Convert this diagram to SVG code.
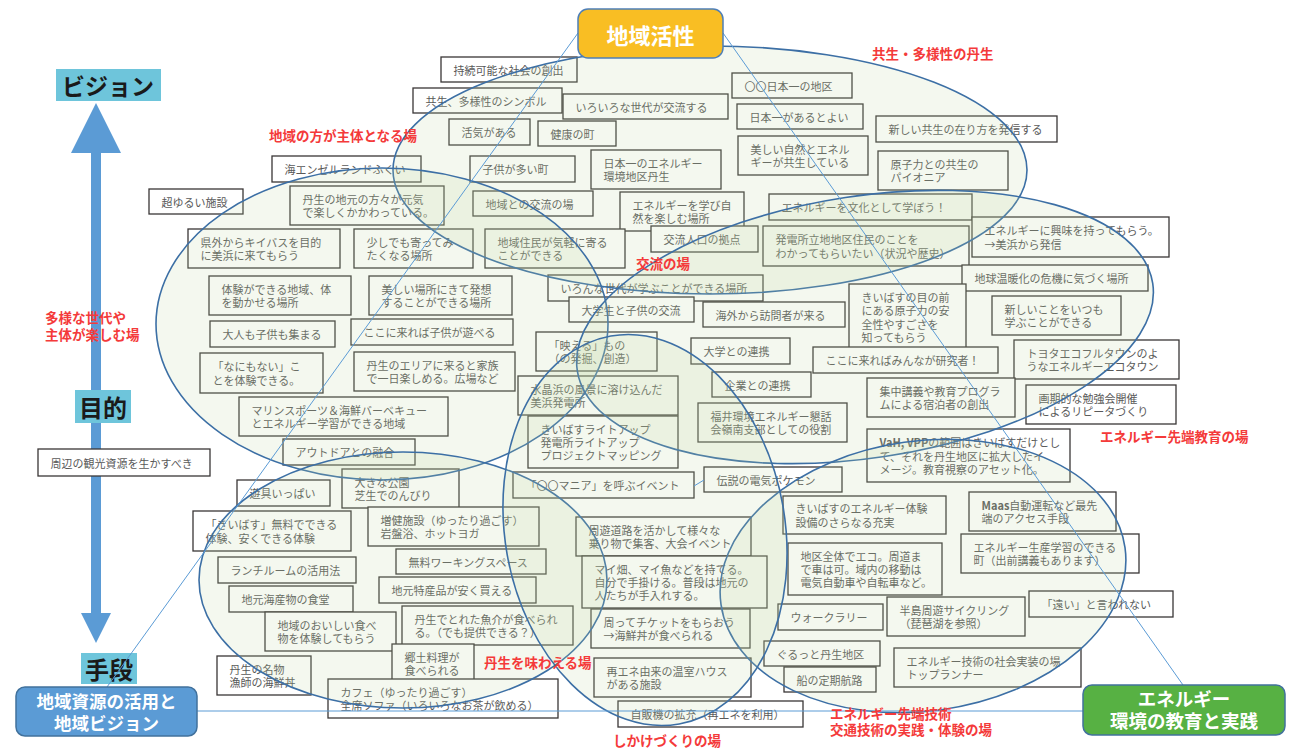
<svg xmlns="http://www.w3.org/2000/svg" width="1289" height="749" viewBox="0 0 1289 749">
<style>
.bx rect{fill:#fff;stroke:#3a3636;stroke-width:1.3}
.bx text{font-family:"Noto Sans CJK JP","Noto Sans",sans-serif;font-size:11px;fill:#595959;dominant-baseline:central}
.rg{fill:rgb(190,215,160);fill-opacity:0.17;stroke:#3c6fa5;stroke-width:1.6}
.lbl{font-family:"Noto Sans CJK JP",sans-serif;font-size:13.5px;font-weight:bold;fill:#f43a3a;dominant-baseline:central}
.cn{stroke:#5b9bd5;stroke-width:1;fill:none}
.ax rect{fill:#6ec5db}
.ax text{font-family:"Noto Sans CJK JP",sans-serif;font-weight:bold;fill:#1a1a1a;text-anchor:middle;dominant-baseline:central}
.mn text{font-family:"Noto Sans CJK JP",sans-serif;font-weight:bold;fill:#fff;text-anchor:middle;dominant-baseline:central}
</style>
<rect width="1289" height="749" fill="#fff"/>
<g id="axis-arrow" fill="#5b9bd5">
<polygon points="96,103 121,153 71,153"/>
<rect x="91" y="152" width="10" height="462"/>
<polygon points="81,613 111,613 96,643"/>
</g>
<g id="ax-vision" class="ax"><rect x="56" y="69" width="105" height="32"/><text x="108" y="85" font-size="23">ビジョン</text></g>
<g id="ax-purpose" class="ax"><rect x="75" y="390" width="56" height="33"/><text x="103" y="406" font-size="24">目的</text></g>
<g id="ax-means" class="ax"><rect x="81" y="653" width="56" height="31"/><text x="109" y="668.5" font-size="24">手段</text></g>

<g id="b01" class="bx"><rect x="441" y="57" width="136" height="25"/><text x="453.5" y="69.5">持続可能な社会の創出</text></g>
<g id="b02" class="bx"><rect x="413" y="88" width="149" height="25"/><text x="425.5" y="100.5">共生、多様性のシンボル</text></g>
<g id="b03" class="bx"><rect x="563" y="94" width="165" height="25"/><text x="575.5" y="106.5">いろいろな世代が交流する</text></g>
<g id="b04" class="bx"><rect x="449" y="119" width="81" height="26"/><text x="461.5" y="132">活気がある</text></g>
<g id="b05" class="bx"><rect x="538" y="121" width="78" height="25"/><text x="550.5" y="133.5">健康の町</text></g>
<g id="b06" class="bx"><rect x="470" y="156" width="105" height="26"/><text x="482.5" y="169">子供が多い町</text></g>
<g id="b07" class="bx"><rect x="591" y="150" width="130" height="39"/><text><tspan x="603.5" y="162.9">日本一のエネルギー</tspan><tspan x="603.5" y="176.2">環境地区丹生</tspan></text></g>
<g id="b08" class="bx"><rect x="473" y="191" width="120" height="25"/><text x="485.5" y="203.5">地域との交流の場</text></g>
<g id="b09" class="bx"><rect x="620" y="192" width="124" height="39"/><text><tspan x="632.5" y="204.9">エネルギーを学び自</tspan><tspan x="632.5" y="218.2">然を楽しむ場所</tspan></text></g>
<g id="b10" class="bx"><rect x="651" y="226" width="107" height="26"/><text x="663.5" y="239">交流人口の拠点</text></g>
<g id="b11" class="bx"><rect x="485" y="229" width="140" height="39"/><text><tspan x="497.5" y="241.9">地域住民が気軽に寄る</tspan><tspan x="497.5" y="255.2">ことができる</tspan></text></g>
<g id="b12" class="bx"><rect x="732" y="73" width="120" height="25"/><text x="744.5" y="85.5">〇〇日本一の地区</text></g>
<g id="b13" class="bx"><rect x="737" y="104" width="126" height="25"/><text x="749.5" y="116.5">日本一があるとよい</text></g>
<g id="b14" class="bx"><rect x="738" y="136" width="130" height="39"/><text><tspan x="750.5" y="148.9">美しい自然とエネル</tspan><tspan x="750.5" y="162.2">ギーが共生している</tspan></text></g>
<g id="b15" class="bx"><rect x="876" y="116" width="181" height="26"/><text x="888.5" y="129">新しい共生の在り方を発信する</text></g>
<g id="b16" class="bx"><rect x="878" y="151" width="130" height="39"/><text><tspan x="890.5" y="163.9">原子力との共生の</tspan><tspan x="890.5" y="177.2">パイオニア</tspan></text></g>
<g id="b17" class="bx"><rect x="769" y="194" width="203" height="26"/><text x="781.5" y="207">エネルギーを文化として学ぼう！</text></g>
<g id="b18" class="bx"><rect x="763" y="226" width="206" height="40"/><text><tspan x="775.5" y="239.4">発電所立地地区住民のことを</tspan><tspan x="775.5" y="252.7">わかってもらいたい（状況や歴史）</tspan></text></g>
<g id="b19" class="bx"><rect x="972" y="217" width="197" height="40"/><text><tspan x="984.5" y="230.4">エネルギーに興味を持ってもらう。</tspan><tspan x="984.5" y="243.7">→美浜から発信</tspan></text></g>
<g id="b20" class="bx"><rect x="962" y="265" width="186" height="26"/><text x="974.5" y="278">地球温暖化の危機に気づく場所</text></g>
<g id="b21" class="bx"><rect x="849" y="284" width="117" height="66"/><text><tspan x="861.5" y="297">きいばすの目の前</tspan><tspan x="861.5" y="310.3">にある原子力の安</tspan><tspan x="861.5" y="323.7">全性やすごさを</tspan><tspan x="861.5" y="337">知ってもらう</tspan></text></g>
<g id="b22" class="bx"><rect x="992" y="296" width="129" height="39"/><text><tspan x="1004.5" y="308.9">新しいことをいつも</tspan><tspan x="1004.5" y="322.2">学ぶことができる</tspan></text></g>
<g id="b23" class="bx"><rect x="813" y="347" width="185" height="26"/><text x="825.5" y="360">ここに来ればみんなが研究者！</text></g>
<g id="b24" class="bx"><rect x="1014" y="340" width="165" height="39"/><text><tspan x="1026.5" y="352.9">トヨタエコフルタウンのよ</tspan><tspan x="1026.5" y="366.2">うなエネルギーエコタウン</tspan></text></g>
<g id="b25" class="bx"><rect x="867" y="378" width="148" height="39"/><text><tspan x="879.5" y="390.9">集中講義や教育プログラ</tspan><tspan x="879.5" y="404.2">ムによる宿泊者の創出</tspan></text></g>
<g id="b26" class="bx"><rect x="1026" y="385" width="150" height="39"/><text><tspan x="1038.5" y="397.9">画期的な勉強会開催</tspan><tspan x="1038.5" y="411.2">によるリピータづくり</tspan></text></g>
<g id="b27" class="bx"><rect x="867" y="429" width="203" height="53"/><text><tspan x="879.5" y="442.2"><tspan font-weight="bold">VaH, VPP</tspan>の範囲はきいばすだけとし</tspan><tspan x="879.5" y="455.5">て、それを丹生地区に拡大したイ</tspan><tspan x="879.5" y="468.8">メージ。教育視察のアセット化。</tspan></text></g>
<g id="b28" class="bx"><rect x="548" y="275" width="215" height="26"/><text x="560.5" y="288">いろんな世代が学ぶことができる場所</text></g>
<g id="b29" class="bx"><rect x="569" y="297" width="125" height="25"/><text x="581.5" y="309.5">大学生と子供の交流</text></g>
<g id="b30" class="bx"><rect x="703" y="302" width="142" height="25"/><text x="715.5" y="314.5">海外から訪問者が来る</text></g>
<g id="b31" class="bx"><rect x="536" y="332" width="121" height="39"/><text><tspan x="548.5" y="344.9">「映える」もの</tspan><tspan x="548.5" y="358.2">（の発掘、創造）</tspan></text></g>
<g id="b32" class="bx"><rect x="691" y="338" width="99" height="26"/><text x="703.5" y="351">大学との連携</text></g>
<g id="b33" class="bx"><rect x="712" y="372" width="99" height="25"/><text x="724.5" y="384.5">企業との連携</text></g>
<g id="b34" class="bx"><rect x="518" y="376" width="160" height="39"/><text><tspan x="530.5" y="388.9">水晶浜の風景に溶け込んだ</tspan><tspan x="530.5" y="402.2">美浜発電所</tspan></text></g>
<g id="b35" class="bx"><rect x="698" y="403" width="149" height="39"/><text><tspan x="710.5" y="415.9">福井環境エネルギー懇話</tspan><tspan x="710.5" y="429.2">会嶺南支部としての役割</tspan></text></g>
<g id="b36" class="bx"><rect x="528" y="416" width="150" height="52"/><text><tspan x="540.5" y="428.7">きいばすライトアップ</tspan><tspan x="540.5" y="442">発電所ライトアップ</tspan><tspan x="540.5" y="455.3">プロジェクトマッピング</tspan></text></g>
<g id="b37" class="bx"><rect x="513" y="472" width="181" height="26"/><text x="525.5" y="485">「〇〇マニア」を呼ぶイベント</text></g>
<g id="b38" class="bx"><rect x="704" y="467" width="138" height="25"/><text x="716.5" y="479.5">伝説の電気ポケモン</text></g>
<g id="b39" class="bx"><rect x="272" y="156" width="149" height="26"/><text x="284.5" y="169">海エンゼルランドふくい</text></g>
<g id="b40" class="bx"><rect x="149" y="189" width="94" height="25"/><text x="161.5" y="201.5">超ゆるい施設</text></g>
<g id="b41" class="bx"><rect x="290" y="186" width="154" height="39"/><text><tspan x="302.5" y="198.9">丹生の地元の方々が元気</tspan><tspan x="302.5" y="212.2">で楽しくかかわっている。</tspan></text></g>
<g id="b42" class="bx"><rect x="188" y="229" width="152" height="39"/><text><tspan x="200.5" y="241.9">県外からキイバスを目的</tspan><tspan x="200.5" y="255.2">に美浜に来てもらう</tspan></text></g>
<g id="b43" class="bx"><rect x="354" y="229" width="119" height="39"/><text><tspan x="366.5" y="241.9">少しでも寄ってみ</tspan><tspan x="366.5" y="255.2">たくなる場所</tspan></text></g>
<g id="b44" class="bx"><rect x="209" y="276" width="142" height="39"/><text><tspan x="221.5" y="288.9">体験ができる地域、体</tspan><tspan x="221.5" y="302.2">を動かせる場所</tspan></text></g>
<g id="b45" class="bx"><rect x="369" y="276" width="143" height="39"/><text><tspan x="381.5" y="288.9">美しい場所にきて発想</tspan><tspan x="381.5" y="302.2">することができる場所</tspan></text></g>
<g id="b46" class="bx"><rect x="210" y="321" width="125" height="26"/><text x="222.5" y="334">大人も子供も集まる</text></g>
<g id="b47" class="bx"><rect x="351" y="319" width="162" height="26"/><text x="363.5" y="332">ここに来れば子供が遊べる</text></g>
<g id="b48" class="bx"><rect x="200" y="353" width="123" height="40"/><text><tspan x="212.5" y="366.4">「なにもない」こ</tspan><tspan x="212.5" y="379.7">とを体験できる。</tspan></text></g>
<g id="b49" class="bx"><rect x="354" y="352" width="161" height="39"/><text><tspan x="366.5" y="364.9">丹生のエリアに来ると家族</tspan><tspan x="366.5" y="378.2">で一日楽しめる。広場など</tspan></text></g>
<g id="b50" class="bx"><rect x="239" y="397" width="209" height="39"/><text><tspan x="251.5" y="409.9">マリンスポーツ＆海鮮バーベキュー</tspan><tspan x="251.5" y="423.2">とエネルギー学習ができる地域</tspan></text></g>
<g id="b51" class="bx"><rect x="283" y="439" width="132" height="26"/><text x="295.5" y="452">アウトドアとの融合</text></g>
<g id="b52" class="bx"><rect x="38" y="449" width="172" height="27"/><text x="50.5" y="462.5">周辺の観光資源を生かすべき</text></g>
<g id="b53" class="bx"><rect x="237" y="480" width="93" height="26"/><text x="249.5" y="493">遊具いっぱい</text></g>
<g id="b54" class="bx"><rect x="342" y="469" width="117" height="39"/><text><tspan x="354.5" y="481.9">大きな公園</tspan><tspan x="354.5" y="495.2">芝生でのんびり</tspan></text></g>
<g id="b55" class="bx"><rect x="193" y="511" width="158" height="40"/><text><tspan x="205.5" y="524.4">「きいばす」無料でできる</tspan><tspan x="205.5" y="537.7">体験、安くできる体験</tspan></text></g>
<g id="b56" class="bx"><rect x="368" y="507" width="171" height="39"/><text><tspan x="380.5" y="519.9">増健施設（ゆったり過ごす）</tspan><tspan x="380.5" y="533.2">岩盤浴、ホットヨガ</tspan></text></g>
<g id="b57" class="bx"><rect x="218" y="557" width="138" height="26"/><text x="230.5" y="570">ランチルームの活用法</text></g>
<g id="b58" class="bx"><rect x="396" y="549" width="150" height="25"/><text x="408.5" y="561.5">無料ワーキングスペース</text></g>
<g id="b59" class="bx"><rect x="229" y="586" width="124" height="26"/><text x="241.5" y="599">地元海産物の食堂</text></g>
<g id="b60" class="bx"><rect x="379" y="577" width="157" height="26"/><text x="391.5" y="590">地元特産品が安く買える</text></g>
<g id="b61" class="bx"><rect x="265" y="612" width="131" height="39"/><text><tspan x="277.5" y="624.9">地域のおいしい食べ</tspan><tspan x="277.5" y="638.2">物を体験してもらう</tspan></text></g>
<g id="b62" class="bx"><rect x="402" y="606" width="171" height="39"/><text><tspan x="414.5" y="618.9">丹生でとれた魚介が食べられ</tspan><tspan x="414.5" y="632.2">る。（でも提供できる？）</tspan></text></g>
<g id="b63" class="bx"><rect x="392" y="644" width="82" height="39"/><text><tspan x="404.5" y="656.9">郷土料理が</tspan><tspan x="404.5" y="670.2">食べられる</tspan></text></g>
<g id="b64" class="bx"><rect x="217" y="656" width="94" height="39"/><text><tspan x="229.5" y="668.9">丹生の名物</tspan><tspan x="229.5" y="682.2">漁師の海鮮丼</tspan></text></g>
<g id="b65" class="bx"><rect x="328" y="679" width="230" height="39"/><text><tspan x="340.5" y="691.9">カフェ（ゆったり過ごす）</tspan><tspan x="340.5" y="705.2">全席ソファ（いろいろなお茶が飲める）</tspan></text></g>
<g id="b66" class="bx"><rect x="576" y="517" width="175" height="39"/><text><tspan x="588.5" y="529.9">周遊道路を活かして様々な</tspan><tspan x="588.5" y="543.2">乗り物で集客、大会イベント</tspan></text></g>
<g id="b67" class="bx"><rect x="582" y="556" width="185" height="52"/><text><tspan x="594.5" y="568.7">マイ畑、マイ魚などを持てる。</tspan><tspan x="594.5" y="582">自分で手掛ける。普段は地元の</tspan><tspan x="594.5" y="595.3">人たちが手入れする。</tspan></text></g>
<g id="b68" class="bx"><rect x="591" y="609" width="159" height="39"/><text><tspan x="603.5" y="621.9">周ってチケットをもらおう</tspan><tspan x="603.5" y="635.2">→海鮮丼が食べられる</tspan></text></g>
<g id="b69" class="bx"><rect x="594" y="658" width="157" height="39"/><text><tspan x="606.5" y="670.9">再エネ由来の温室ハウス</tspan><tspan x="606.5" y="684.2">がある施設</tspan></text></g>
<g id="b70" class="bx"><rect x="618" y="701" width="185" height="26"/><text x="630.5" y="714">自販機の拡充（再エネを利用）</text></g>
<g id="b71" class="bx"><rect x="783" y="496" width="163" height="38"/><text><tspan x="795.5" y="508.4">きいばすのエネルギー体験</tspan><tspan x="795.5" y="521.7">設備のさらなる充実</tspan></text></g>
<g id="b72" class="bx"><rect x="969" y="492" width="147" height="39"/><text><tspan x="981.5" y="504.9"><tspan font-weight="bold">Maas</tspan>自動運転など最先</tspan><tspan x="981.5" y="518.2">端のアクセス手段</tspan></text></g>
<g id="b73" class="bx"><rect x="788" y="543" width="154" height="52"/><text><tspan x="800.5" y="555.7">地区全体でエコ。周道ま</tspan><tspan x="800.5" y="569">で車は可。域内の移動は</tspan><tspan x="800.5" y="582.3">電気自動車や自転車など。</tspan></text></g>
<g id="b74" class="bx"><rect x="961" y="534" width="178" height="39"/><text><tspan x="973.5" y="546.9">エネルギー生産学習のできる</tspan><tspan x="973.5" y="560.2">町（出前講義もあります）</tspan></text></g>
<g id="b75" class="bx"><rect x="778" y="604" width="105" height="26"/><text x="790.5" y="617">ウォークラリー</text></g>
<g id="b76" class="bx"><rect x="887" y="597" width="138" height="39"/><text><tspan x="899.5" y="609.9">半島周遊サイクリング</tspan><tspan x="899.5" y="623.2">（琵琶湖を参照）</tspan></text></g>
<g id="b77" class="bx"><rect x="1029" y="591" width="144" height="26"/><text x="1041.5" y="604">「遠い」と言われない</text></g>
<g id="b78" class="bx"><rect x="764" y="641" width="116" height="25"/><text x="776.5" y="653.5">ぐるっと丹生地区</text></g>
<g id="b79" class="bx"><rect x="784" y="667" width="92" height="25"/><text x="796.5" y="679.5">船の定期航路</text></g>
<g id="b80" class="bx"><rect x="894" y="648" width="187" height="39"/><text><tspan x="906.5" y="660.9">エネルギー技術の社会実装の場</tspan><tspan x="906.5" y="674.2">トップランナー</tspan></text></g>

<g id="regions">
<ellipse id="r-kyosei" class="rg" cx="710" cy="170" rx="317" ry="124"/>
<ellipse id="r-chiiki" class="rg" cx="382" cy="324" rx="226" ry="156"/>
<ellipse id="r-ajiwau" class="rg" cx="403" cy="580" rx="204" ry="128"/>
<ellipse id="r-koryu" class="rg" cx="865" cy="327" rx="291" ry="131" transform="rotate(-8.6 865 327)"/>
<ellipse id="r-gijutsu" class="rg" cx="923" cy="576" rx="204" ry="135" transform="rotate(-8 923 576)"/>
<ellipse id="r-shikake" class="rg" cx="645" cy="530" rx="140" ry="197" transform="rotate(-10 645 530)"/>
</g>

<g id="connectors" class="cn">
<line x1="578" y1="33" x2="107" y2="687"/>
<line x1="723" y1="33" x2="1183" y2="685"/>
<line x1="197" y1="711" x2="1083" y2="711"/>
<line x1="694" y1="486" x2="704" y2="480"/>
</g>

<g id="n-kassei" class="mn"><rect x="578" y="9" width="145" height="49" rx="10" fill="#f9be23" stroke="#4e7fb8" stroke-width="1.5"/><text x="650.5" y="33.5" font-size="22">地域活性</text></g>
<g id="n-shigen" class="mn"><rect x="16" y="687" width="181" height="49" rx="9" fill="#5b9bd5" stroke="#41719c" stroke-width="1.5"/><text font-size="17.5"><tspan x="106.5" y="700">地域資源の活用と</tspan><tspan x="106.5" y="722">地域ビジョン</tspan></text></g>
<g id="n-energy" class="mn"><rect x="1083" y="685" width="202" height="50" rx="9" fill="#57b143" stroke="#41719c" stroke-width="1.5"/><text font-size="18.5"><tspan x="1184" y="698">エネルギー</tspan><tspan x="1184" y="720">環境の教育と実践</tspan></text></g>

<g id="labels" class="lbl">
<text x="872" y="53">共生・多様性の丹生</text>
<text x="269" y="135">地域の方が主体となる場</text>
<text x="45" y="317">多様な世代や</text>
<text x="45" y="334">主体が楽しむ場</text>
<text x="636" y="263">交流の場</text>
<text x="1100" y="436">エネルギー先端教育の場</text>
<text x="484" y="662">丹生を味わえる場</text>
<text x="613" y="740">しかけづくりの場</text>
<text x="830" y="713">エネルギー先端技術</text>
<text x="830" y="729">交通技術の実践・体験の場</text>
</g>
</svg>
